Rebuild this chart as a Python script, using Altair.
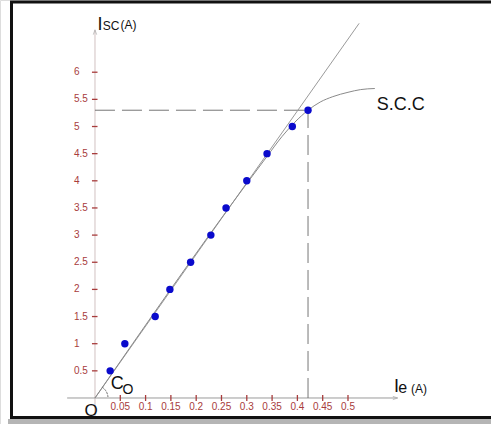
import altair as alt
import pandas as pd

# Measured short-circuit current vs. field current
ie_vals = [0.030, 0.059, 0.119, 0.148, 0.189, 0.229, 0.259, 0.300, 0.340, 0.390, 0.421]
isc_vals = [0.5, 1.0, 1.5, 2.0, 2.5, 3.0, 3.5, 4.0, 4.5, 5.0, 5.3]

# Short-circuit characteristic (S.C.C) curve, hand-traced
scc_x = [0.0, 0.30, 0.34, 0.37, 0.395, 0.421, 0.445, 0.47, 0.50, 0.525, 0.553]
scc_y = [0.0, 3.95, 4.45, 4.82, 5.08, 5.30, 5.45, 5.55, 5.63, 5.68, 5.70]

# Air-gap line through the origin
air_x = [0.0, 0.522]
air_y = [0.0, 6.90]

# Operating point marked by the dashed guides
op_x = 0.421
op_y = 5.3

# Axis ticks
x_ticks = [0.05, 0.1, 0.15, 0.2, 0.25, 0.3, 0.35, 0.4, 0.45, 0.5]
x_tick_labels = ["0.05", "0.1", "0.15", "0.2", "0.25", "0.3", "0.35", "0.4", "0.45", "0.5"]
y_ticks = [0.5, 1, 1.5, 2, 2.5, 3, 3.5, 4, 4.5, 5, 5.5, 6]
y_tick_labels = ["0.5", "1", "1.5", "2", "2.5", "3", "3.5", "4", "4.5", "5", "5.5", "6"]

W, H = 491, 424
xs = alt.Scale(domain=[-0.1877, 0.7826], nice=False, zero=False)
ys = alt.Scale(domain=[-0.479, 7.33], nice=False, zero=False)
TICK_RED = "#a83c3c"
FONT = "Liberation Sans"


def X(f="x"):
    return alt.X(f"{f}:Q", scale=xs, axis=None)


def Y(f="y"):
    return alt.Y(f"{f}:Q", scale=ys, axis=None)


# Frame and shadow
shadow = alt.Chart(pd.DataFrame({"a": [0]})).mark_rect(color="#b5b5b5").encode(
    x=alt.value(8), x2=alt.value(W), y=alt.value(419), y2=alt.value(H))
frame = alt.Chart(pd.DataFrame({"a": [0]})).mark_rect(
    fill="white", stroke="#111", strokeWidth=3).encode(
    x=alt.value(11.5), x2=alt.value(W + 5), y=alt.value(2), y2=alt.value(417.5))

# Axis lines
xaxis_df = pd.DataFrame({"x": [-0.055], "x2": [0.598], "y": [0.0]})
x_axis = alt.Chart(xaxis_df).mark_rule(color="#9a9a9a", strokeWidth=1).encode(
    x=X(), x2="x2:Q", y=Y())
yaxis_df = pd.DataFrame({"x": [0.0], "y": [-0.33], "y2": [6.78]})
y_axis = alt.Chart(yaxis_df).mark_rule(color="#d9cccc", strokeWidth=1.2).encode(
    x=X(), y=Y(), y2="y2:Q")

arrow_df = pd.DataFrame({"x": [0.598, 0.0], "y": [0.0, 6.78], "ang": [0, -90]})
arrows = alt.Chart(arrow_df).mark_point(
    shape="M -1 -0.35 L 0 0 L -1 0.35", size=90, filled=False,
    stroke="#aaaaaa", strokeWidth=1).encode(
    x=X(), y=Y(), angle=alt.Angle("ang:Q", scale=None))

# Tick marks and labels
xt_df = pd.DataFrame({"x": x_ticks, "lab": x_tick_labels, "y": -0.055, "y2": 0.055, "ly": -0.17})
x_tick_marks = alt.Chart(xt_df).mark_rule(color=TICK_RED, strokeWidth=1.3).encode(
    x=X(), y=Y(), y2="y2:Q")
x_tick_text = alt.Chart(xt_df).mark_text(
    color=TICK_RED, font=FONT, fontSize=10, align="center", baseline="middle").encode(
    x=X(), y=Y("ly"), text="lab:N")

yt_df = pd.DataFrame({"y": y_ticks, "lab": y_tick_labels, "x": -0.006, "x2": 0.005, "lx": -0.0415})
y_tick_marks = alt.Chart(yt_df).mark_rule(color=TICK_RED, strokeWidth=1.3).encode(
    x=X(), x2="x2:Q", y=Y())
y_tick_text = alt.Chart(yt_df).mark_text(
    color=TICK_RED, font=FONT, fontSize=10, align="left", baseline="middle").encode(
    x=X("lx"), y=Y(), text="lab:N")

# Dashed guides to the operating point
guide_df = pd.DataFrame({"x": [0.0, op_x], "x2": [op_x, op_x], "y": [op_y, 0.0], "y2": [op_y, op_y]})
guides = alt.Chart(guide_df).mark_rule(
    color="#666", strokeWidth=0.9, strokeDash=[20, 7]).encode(
    x=X(), x2="x2:Q", y=Y(), y2="y2:Q")

# Air-gap line and S.C.C curve
air = alt.Chart(pd.DataFrame({"x": air_x, "y": air_y})).mark_line(
    color="#9a9a9a", strokeWidth=1).encode(x=X(), y=Y())
scc = alt.Chart(pd.DataFrame({"x": scc_x, "y": scc_y})).mark_line(
    color="#8a8a8a", strokeWidth=1, interpolate="monotone").encode(x=X(), y=Y())

# Angle marker at the origin
angle_mark = alt.Chart(pd.DataFrame({"x": [0.0], "y": [0.0]})).mark_arc(
    radius=13, radius2=13, theta=0.62, theta2=1.52, fill="transparent",
    stroke="#555", strokeWidth=1, strokeDash=[1, 2]).encode(x=X(), y=Y())

# Measurement points
pts = alt.Chart(pd.DataFrame({"x": ie_vals, "y": isc_vals})).mark_circle(
    color="#0a0acc", size=55, opacity=1).encode(x=X(), y=Y())

# Text annotations
ann_df = pd.DataFrame({
    "x": [-0.0205, 0.031, 0.0545, 0.005, 0.0155, 0.0505, 0.591, 0.5995, 0.6245, 0.557],
    "y": [-0.33, 0.166, 0.074, 6.777, 6.777, 6.79, 0.116, 0.092, 0.092, 5.30],
    "t": ["O", "C", "O", "I", "SC", "(A)", "I", "e", "(A)", "S.C.C"],
    "fs": [17, 18, 14, 18, 12, 12, 18, 16, 12, 18],
})
ann = alt.Chart(ann_df).mark_text(
    color="#111", font=FONT, align="left", baseline="alphabetic").encode(
    x=X(), y=Y(), text="t:N", size=alt.Size("fs:Q", scale=None, legend=None))

chart = alt.layer(
    shadow, frame, y_axis, x_axis, arrows, guides, air, scc, angle_mark,
    x_tick_marks, y_tick_marks, x_tick_text, y_tick_text, pts, ann
).properties(
    width=W, height=H, autosize=alt.AutoSizeParams(type="none"), padding=0
).configure_view(stroke=None).configure(background="white")

chart.save("out.html", embed_options={"renderer": "svg", "actions": False})
